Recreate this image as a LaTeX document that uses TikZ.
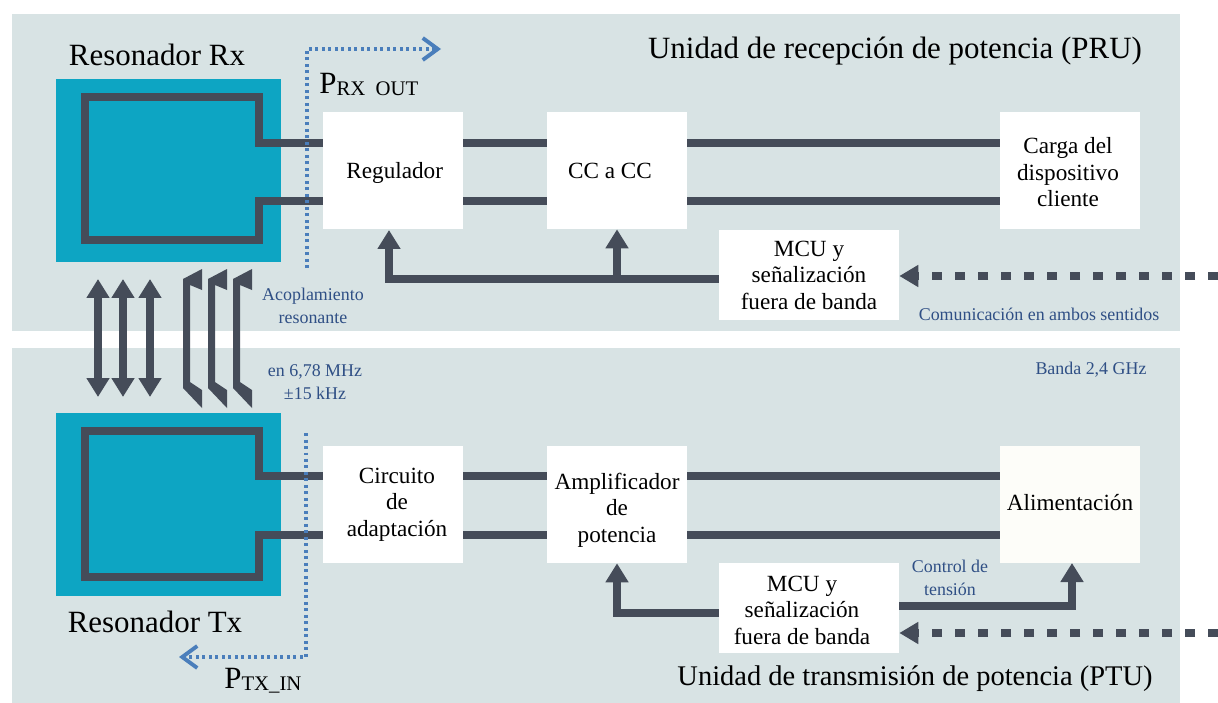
\documentclass[tikz,border=0pt]{standalone}
\usepackage{fontspec}
\setmainfont{Liberation Serif}
\usetikzlibrary{arrows.meta}
\definecolor{panelgray}{HTML}{D8E3E4}
\definecolor{coilteal}{HTML}{0DA5C3}
\definecolor{wiregray}{HTML}{454C59}
\definecolor{powerblue}{HTML}{4A7EBB}
\definecolor{notenavy}{HTML}{2F4F85}
\definecolor{creamwhite}{HTML}{FDFDF9}
\tikzset{
	panel/.style={fill=panelgray,draw=none},
	resonator/.style={fill=coilteal,draw=none},
	block/.style={fill=white,draw=none,inner sep=0pt,minimum width=2.8cm,minimum height=2.34cm,align=center,font=\fontsize{13.2}{15.1}\selectfont},
	mcublock/.style={block,minimum width=3.6cm,minimum height=1.8cm},
	wire/.style={draw=wiregray,line width=4.1pt,line join=miter},
	feed/.style={wire,-{Triangle[length=.38cm,width=.44cm]}},
	link/.style={wire,{Triangle[length=.38cm,width=.44cm]}-{Triangle[length=.38cm,width=.44cm]}},
	radio/.style={wire,dash pattern=on .21cm off .25cm,-{Triangle[length=.38cm,width=.42cm]}},
	power/.style={draw=powerblue,line width=2.6pt,dash pattern=on .06cm off .07cm,-{Straight Barb[length=.3cm,width=.44cm,line width=2.2pt]}},
	title/.style={inner sep=0pt,font=\fontsize{17.6}{20}\selectfont},
	note/.style={inner sep=0pt,align=center,text=notenavy,font=\fontsize{10.2}{13}\selectfont},
}
\newcommand{\powerlabel}[2]{{\fontsize{17.6}{20}\selectfont #1}{\fontsize{11.8}{13}\selectfont\raisebox{-1.5pt}{#2}}}
\begin{document}
\begin{tikzpicture}[x=0.02cm,y=-0.02cm]
	\useasboundingbox (0,0) rectangle (1218,703);
	\fill[white] (0,0) rectangle (1218,703);
	\fill[panel] (12,14) rectangle (1180,331);
	\fill[panel] (12,348) rectangle (1180,703);
	% resonators
	\fill[resonator] (56,79) rectangle (281,262);
	\fill[resonator] (56,413) rectangle (281,596);
	% blocks of the PRU
	\node[block] (reg) at (393,170.5) {\rule{0pt}{11.4pt}\hspace*{.07cm}Regulador};
	\node[block] (ccc) at (617,170.5) {\hspace*{-.28cm}CC a CC};
	\node[block] (load) at (1070,170.5) {\rule{0pt}{11.4pt}\hspace*{-.08cm}Carga del\\\hspace*{-.08cm}dispositivo\\\hspace*{-.08cm}cliente};
	\node[mcublock] (mcurx) at (809,275) {MCU y\\señalización\\fuera de banda};
	% blocks of the PTU
	\node[block] (match) at (393,504.5) {\hspace*{.16cm}Circuito\\\hspace*{.16cm}de\\\hspace*{.16cm}adaptación};
	\node[block] (amp) at (617,504.5) {\rule{0pt}{15.8pt}Amplificador\\de\\potencia};
	\node[block,fill=creamwhite] (supply) at (1070,504.5) {\rule[-2.6pt]{0pt}{1pt}Alimentación};
	\node[mcublock] (mcutx) at (809,608) {\rule{0pt}{11.4pt}\hspace*{-.28cm}MCU y\\\hspace*{-.28cm}señalización\\\hspace*{-.28cm}fuera de banda};
	% coils
	\coordinate (rxa) at (259,143);
	\coordinate (rxb) at (259,201);
	\coordinate (txa) at (259,476);
	\coordinate (txb) at (259,535);
	\draw[wire] (reg.west |- rxa) -- (rxa) |- (85,97) -- (85,240) -| (rxb) -- (reg.west |- rxb);
	\draw[wire] (match.west |- txa) -- (txa) |- (85,431) -- (85,577) -| (txb) -- (match.west |- txb);
	% power lines
	\draw[wire] (reg.east |- rxa) -- (ccc.west |- rxa);
	\draw[wire] (reg.east |- rxb) -- (ccc.west |- rxb);
	\draw[wire] (ccc.east |- rxa) -- (load.west |- rxa);
	\draw[wire] (ccc.east |- rxb) -- (load.west |- rxb);
	\draw[wire] (match.east |- txa) -- (amp.west |- txa);
	\draw[wire] (match.east |- txb) -- (amp.west |- txb);
	\draw[wire] (amp.east |- txa) -- (supply.west |- txa);
	\draw[wire] (amp.east |- txb) -- (supply.west |- txb);
	% control
	\coordinate (regin) at (389,230);
	\coordinate (supin) at (1072,563);
	\draw[feed] (mcurx.west |- 0,279) -| (regin);
	\draw[feed] (ccc.south |- 0,279) -- (ccc.south);
	\draw[feed] (mcutx.west |- 0,613) -| (amp.south);
	\draw[feed] (mcutx.east |- 0,606) -| (supin);
	\draw[radio] (1218,276) -- (mcurx.east |- 0,276);
	\draw[radio] (1218,633) -- (mcutx.east |- 0,633);
	% coupling
	\foreach \x in {98,123,150}
		\draw[link] (\x,279) -- (\x,397);
	\foreach \x in {187,212,237}
		\fill[wiregray] (\x-4,388) -- (\x-4,279) -- (\x+15,269) -- (\x+15,290) -- (\x+3,285) -- (\x+3,382) -- (\x+15,390) -- (\x+15,408) -- cycle;
	% power flow
	\draw[power] (307,268) -- (307,49) -- (441,49);
	\draw[power] (306,433) -- (306,657) -- (179,657);
	% labels
	\node[title] (rxname) at (157,55) {Resonador Rx};
	\node[title] (txname) at (155,622) {Resonador Tx};
	\node[title] (pru) at (895,51) {Unidad de recepción de potencia (PRU)};
	\node[title,font=\fontsize{16.2}{20}\selectfont] (ptu) at (915,679) {Unidad de transmisión de potencia (PTU)};
	\node[inner sep=0pt,anchor=base west] (prx) at (319,93) {\powerlabel{P}{RX\ \ OUT}};
	\node[inner sep=0pt,anchor=base west] (ptx) at (224,688) {\powerlabel{P}{TX\_IN}};
	\node[note] (coupling) at (313,306) {Acoplamiento\\resonante};
	\node[note] (band) at (315,382) {en 6,78 MHz\\±15 kHz};
	\node[note] (both) at (1039,314) {Comunicación en ambos sentidos};
	\node[note] (ghz) at (1091,370) {Banda 2,4 GHz};
	\node[note] (volt) at (950,578) {Control de\\tensión};
\end{tikzpicture}
\end{document}
